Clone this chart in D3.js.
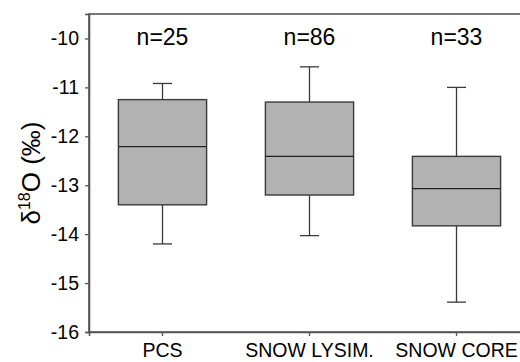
<!DOCTYPE html>
<html><head><meta charset="utf-8">
<script src="https://cdn.jsdelivr.net/npm/d3@7"></script>
<style>body{margin:0;background:#fff}svg{display:block}text{font-family:"Liberation Sans",Arial,sans-serif;fill:#000}</style>
</head><body><svg id="c" width="520" height="362"></svg>
<script>
const categories = ["PCS", "SNOW LYSIM.", "SNOW CORE"];
const counts = ["n=25", "n=86", "n=33"];
const whiskerLow  = [-14.20, -14.03, -15.39];
const q1          = [-13.40, -13.20, -13.83];
const medians     = [-12.21, -12.41, -13.07];
const q3          = [-11.25, -11.30, -12.41];
const whiskerHigh = [-10.92, -10.58, -11.00];
const yTicks = [-16, -15, -14, -13, -12, -11, -10];

(function () {
const svg = d3.select("#c");
const mLeft = 89, mRight = 530, mTop = 14, mBottom = 332;
const x = d3.scaleBand().domain(categories).range([mLeft, mRight]).paddingInner(0).paddingOuter(0);
const y = d3.scaleLinear().domain([-16, -9.5]).range([mBottom, mTop]);
const stroke = "#3a3a3a";

// frame
svg.append("rect").attr("x", mLeft).attr("y", mTop).attr("width", mRight - mLeft).attr("height", mBottom - mTop)
  .attr("fill", "none").attr("stroke", "#555").attr("stroke-width", 1.6);

// y axis
const ya = svg.append("g").attr("transform", `translate(${mLeft},0)`)
  .call(d3.axisLeft(y).tickValues(yTicks).tickSize(4).tickPadding(6).tickFormat(d => String(d)));
ya.select(".domain").attr("stroke", "#555").attr("stroke-width", 1.6);
ya.selectAll(".tick line").attr("stroke", "#555").attr("stroke-width", 1.3);
ya.selectAll(".tick text").attr("font-size", 19.5).attr("font-family", "Liberation Sans, Arial, sans-serif").attr("fill", "#000");

// x axis
const xa = svg.append("g").attr("transform", `translate(0,${mBottom})`)
  .call(d3.axisBottom(x).tickSize(4).tickPadding(7));
xa.select(".domain").attr("stroke", "#555").attr("stroke-width", 1.6);
xa.selectAll(".tick line").attr("stroke", "#555").attr("stroke-width", 1.3);
xa.selectAll(".tick text").attr("font-size", 19.5).attr("font-family", "Liberation Sans, Arial, sans-serif").attr("fill", "#000");

const data = categories.map((c, i) => ({c, n: counts[i], lo: whiskerLow[i], q1: q1[i], med: medians[i], q3: q3[i], hi: whiskerHigh[i]}));
const bw = x.bandwidth() * 0.6;
const capW = 19;
const g = svg.selectAll(".box").data(data).join("g").attr("class", "box");
const cx = d => x(d.c) + x.bandwidth() / 2;

g.append("line").attr("x1", cx).attr("x2", cx).attr("y1", d => y(d.hi)).attr("y2", d => y(d.q3)).attr("stroke", stroke).attr("stroke-width", 1.3);
g.append("line").attr("x1", cx).attr("x2", cx).attr("y1", d => y(d.q1)).attr("y2", d => y(d.lo)).attr("stroke", stroke).attr("stroke-width", 1.3);
g.append("line").attr("x1", d => cx(d) - capW / 2).attr("x2", d => cx(d) + capW / 2).attr("y1", d => y(d.hi)).attr("y2", d => y(d.hi)).attr("stroke", stroke).attr("stroke-width", 1.3);
g.append("line").attr("x1", d => cx(d) - capW / 2).attr("x2", d => cx(d) + capW / 2).attr("y1", d => y(d.lo)).attr("y2", d => y(d.lo)).attr("stroke", stroke).attr("stroke-width", 1.3);
g.append("rect").attr("x", d => cx(d) - bw / 2).attr("width", bw).attr("y", d => y(d.q3)).attr("height", d => y(d.q1) - y(d.q3))
  .attr("fill", "#b2b2b2").attr("stroke", stroke).attr("stroke-width", 1.4);
g.append("line").attr("x1", d => cx(d) - bw / 2).attr("x2", d => cx(d) + bw / 2).attr("y1", d => y(d.med)).attr("y2", d => y(d.med)).attr("stroke", "#222").attr("stroke-width", 1.4);

// n labels
g.append("text").attr("x", cx).attr("y", 44.5).attr("text-anchor", "middle").attr("font-size", 23).text(d => d.n);

// y label
const yl = svg.append("text").attr("transform", "translate(40,173) rotate(-90)").attr("text-anchor", "middle").attr("font-size", 26);
yl.append("tspan").text("δ");
yl.append("tspan").attr("font-size", 16).attr("dy", -10).text("18");
yl.append("tspan").attr("dy", 10).text("O (‰)");
})();
</script></body></html>
